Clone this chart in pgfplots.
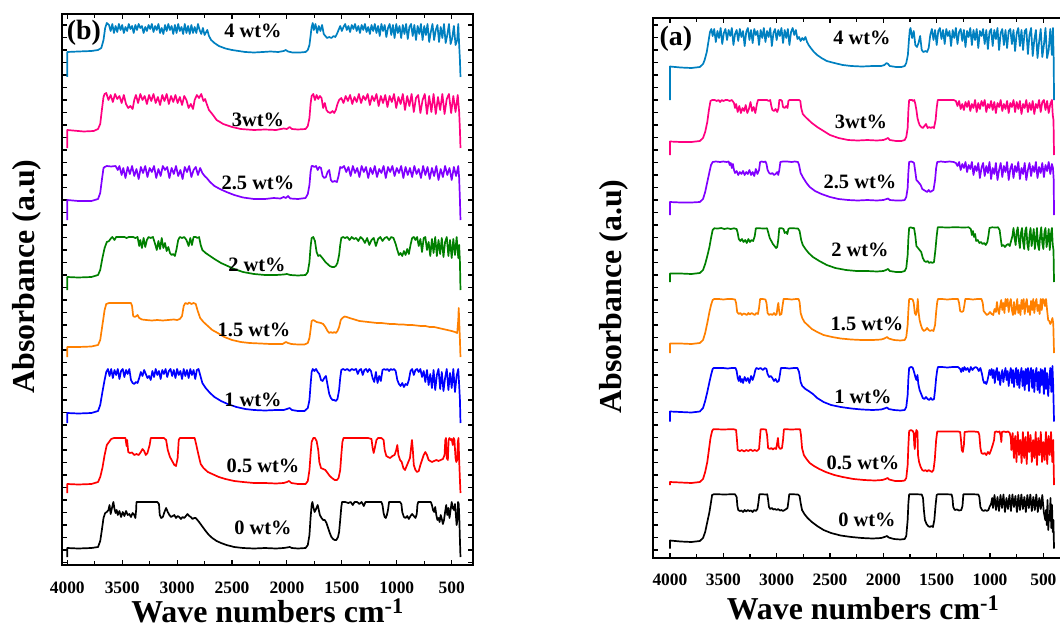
\documentclass[border=0pt]{standalone}
\usepackage{pgfplots}
\pgfplotsset{compat=1.18}
\usepackage{fontspec}
\setmainfont{Liberation Serif}
\definecolor{cA}{RGB}{0,128,192}
\definecolor{cB}{RGB}{255,0,128}
\definecolor{cC}{RGB}{128,0,255}
\definecolor{cD}{RGB}{0,128,0}
\definecolor{cE}{RGB}{255,128,0}
\definecolor{cF}{RGB}{0,0,255}
\definecolor{cG}{RGB}{255,0,0}
\definecolor{cH}{RGB}{0,0,0}
\tikzset{lab/.style={font=\fontsize{20.5}{20.5}\selectfont\bfseries, inner sep=0pt}}
\pgfplotsset{
  ftir/.style={
    scale only axis, x dir=reverse, y dir=reverse,
    xtick={500,1000,...,4000}, minor x tick num=1,
    xtick pos=both, xticklabel pos=lower,
    ytick distance=12.5, yticklabels={}, ytick pos=both,
    tick align=inside, major tick length=5bp, minor tick length=4bp,
    every tick/.style={line width=1.1bp, black},
    axis line style={line width=2.6bp},
    /pgf/number format/1000 sep={},
    /pgf/number format/assume math mode=true,
    xticklabel style={font=\fontsize{17.5}{17.5}\selectfont\bfseries, inner sep=0pt},
    no markers,
    every axis plot/.append style={line width=1.7bp, line join=round},
  },
}
\begin{document}
\begin{tikzpicture}
\path[use as bounding box] (0bp,0bp) rectangle (1060bp,628bp);
% ===================== panel (b) =====================
\begin{axis}[ftir, at={(62bp,63bp)}, anchor=south west, width=411bp, height=551bp,
  xmin=306, xmax=4048, ymin=14, ymax=565, xticklabel style={yshift=-17bp}]
% 4 wt%
\addplot[cA] coordinates {(4000,77)(4000,52)(3900,51.5)(3780,51)(3720,50)(3690,48)(3670,40)(3655,28)(3640,23)
(3620,25)(3605,31)(3590,24)(3575,33)(3560,26)(3545,32)(3530,24)(3515,30)(3500,25)(3485,33)(3470,27)(3455,31)(3440,24)(3425,29)(3410,26)(3395,33)(3380,25)(3365,30)(3350,24)(3335,28)(3320,26)(3305,33)(3290,27)(3275,31)(3260,25)(3245,29)(3230,24)(3215,32)(3200,26)(3185,30)(3170,24)(3155,33)(3140,28)(3125,34)(3110,25)(3095,31)(3080,24)(3065,30)(3050,26)(3035,34)(3020,25)(3005,33)(2990,24)(2975,31)(2960,27)(2945,34)(2930,24)(2915,33)(2900,26)(2885,34)(2870,25)(2855,33)(2840,27)(2825,33)(2810,24)(2795,30)(2780,34)(2765,28)(2750,35)
(2740,33)(2725,30)(2710,36)(2690,40)(2660,43)(2620,46)(2560,48.5)(2500,50)(2440,51)(2380,52)(2300,52.5)(2220,52)(2150,51.5)(2080,52)(2030,51)(2010,50)(1990,51.5)(1950,52.5)(1880,52.5)(1830,52)(1810,50)(1795,45)(1785,36)(1775,27)(1765,23)
(1755,30)(1740,24)(1725,33)(1710,26)(1695,31)(1680,25)(1665,34)(1650,36)(1635,38)(1615,37)(1595,38)(1575,36)(1560,37)(1545,34)(1530,30)(1515,26)(1500,31)(1485,27)(1470,24)(1455,30)(1440,26)(1425,32)(1410,25)(1395,29)(1380,24)(1365,31)(1350,26)(1335,33)(1320,25)(1305,30)(1290,24)(1275,32)(1260,27)(1245,34)(1230,25)(1215,31)(1200,24)(1185,33)(1170,26)(1155,36)(1140,24)(1125,31)(1110,25)(1095,37)(1080,28)(1065,24)(1050,35)(1035,25)(1020,38)(1005,24)(990,33)(975,26)(960,38)(945,25)(930,34)(915,24)(900,39)(885,27)(870,24)(855,36)(840,25)(825,40)(810,26)(795,34)(780,24)(765,40)(750,26)(735,35)(720,24)(705,42)(690,32)(675,24)(660,40)(645,30)(630,25)(615,42)(600,27)(585,38)(570,24)(555,43)(540,35)(525,24)(510,44)(495,38)(480,26)(465,45)(450,40)(440,24)(432,45)(425,60)(420,77)};
% 3 wt%
\addplot[cB] coordinates {(4000,148)(4000,130)(3850,131.5)(3760,131)(3720,129)(3700,124)(3685,110)(3670,97)(3660,94)
(3645,93)(3625,100)(3605,95)(3585,102)(3565,94)(3545,99)(3525,96)(3505,103)(3485,95)(3465,104)(3445,108)(3425,106)(3405,109)(3390,100)(3375,95)(3355,103)(3335,94)(3315,100)(3295,96)(3275,104)(3255,95)(3235,101)(3215,94)(3195,103)(3175,97)(3155,105)(3135,95)(3115,101)(3095,94)(3075,104)(3055,96)(3035,102)(3015,95)(2995,103)(2975,97)(2955,105)(2935,96)(2915,100)(2895,108)(2875,104)(2855,109)(2840,100)(2820,95)(2800,98)(2780,94)(2760,101)(2745,99)(2730,104)
(2710,110)(2680,114)(2640,120)(2580,124)(2500,127)(2420,129)(2300,130)(2200,129.5)(2100,130)(2030,128.5)(2000,129)(1975,127)(1955,129)(1900,129.5)(1830,129)(1810,126)(1795,118)(1785,104)(1775,96)
(1760,94)(1745,100)(1730,95)(1715,99)(1700,96)(1685,98)(1670,108)(1655,103)(1640,110)(1625,112)(1605,113)(1585,111)(1570,113)(1555,110)(1540,104)(1525,100)(1505,98)(1485,103)(1465,96)(1445,101)(1425,95)(1405,104)(1385,97)(1365,102)(1345,94)(1325,103)(1305,96)(1285,100)(1265,94)(1245,105)(1225,96)(1205,101)(1185,94)(1165,106)(1145,96)(1125,103)(1105,95)(1085,107)(1065,96)(1045,102)(1025,94)(1005,108)(985,97)(965,104)(945,94)(925,110)(905,96)(885,106)(865,94)(845,112)(825,98)(805,95)(785,113)(765,100)(745,94)(725,114)(705,96)(685,112)(665,94)(645,114)(625,97)(605,110)(585,94)(565,114)(545,99)(525,94)(505,113)(485,96)(465,112)(445,95)(432,112)(425,130)(420,148)};
% 2.5 wt%
\addplot[cC] coordinates {(4000,220)(4000,200)(3900,201)(3780,201)(3720,199)(3700,193)(3685,180)(3670,168)(3660,167)
(3640,166)(3600,166.5)(3560,166)(3540,170)(3525,166)(3505,175)(3490,168)(3470,178)(3450,167)(3430,174)(3410,166)(3390,176)(3370,169)(3350,179)(3330,167)(3310,173)(3290,166)(3270,177)(3250,168)(3230,172)(3210,166)(3190,178)(3170,169)(3150,176)(3130,166)(3110,170)(3090,167)(3070,178)(3050,168)(3030,174)(3010,166)(2990,176)(2970,170)(2950,179)(2930,167)(2910,172)(2890,166)(2870,177)(2850,170)(2830,167)(2810,175)(2790,168)(2770,173)(2750,176)
(2730,178)(2700,182)(2660,186)(2610,189)(2550,192)(2480,195)(2400,197.5)(2300,199)(2200,199)(2120,198)(2060,198.5)(2030,197)(2010,198)(1990,196)(1970,198.5)(1900,199)(1830,198)(1810,194)(1795,185)(1785,172)(1775,166)
(1765,166)(1750,167)(1735,166)(1720,170)(1705,167)(1690,168)(1675,176)(1660,178)(1645,177)(1630,172)(1615,170)(1600,180)(1585,182)(1565,181)(1545,182)(1530,176)(1515,167)(1500,168)(1480,166)(1460,172)(1440,167)(1420,176)(1400,166)(1380,173)(1360,168)(1340,177)(1320,166)(1300,172)(1280,167)(1260,178)(1240,168)(1220,174)(1200,166)(1180,177)(1160,169)(1140,173)(1120,166)(1100,178)(1080,167)(1060,172)(1040,166)(1020,176)(1000,168)(980,173)(960,166)(940,178)(920,167)(900,175)(880,168)(860,177)(840,166)(820,174)(800,169)(780,178)(760,166)(740,175)(720,167)(700,179)(680,168)(660,176)(640,166)(620,180)(600,169)(580,177)(560,166)(540,175)(520,168)(500,180)(480,167)(460,176)(440,166)(432,178)(425,200)(420,220)};
% 2 wt%
\addplot[cD] coordinates {(4000,290)(4000,277)(3900,277.5)(3780,277)(3720,275)(3700,270)(3680,258)(3660,248)(3640,242)(3620,241)(3600,238)(3590,237)(3570,240)(3555,237)(3540,237)(3520,237)(3500,237)(3480,237)(3460,238)(3440,237)(3420,237)(3400,237)(3380,238)(3360,237)(3345,246)(3335,240)(3320,248)(3305,238)(3290,247)(3275,240)(3260,237)(3240,238)(3220,237)(3200,244)(3185,250)(3170,241)(3155,249)(3140,238)(3125,248)(3110,243)(3095,251)(3080,247)(3065,253)(3050,255)(3035,254)(3020,256)(3005,249)(2990,240)(2975,237)(2955,238)(2935,237)(2915,240)(2895,246)(2880,238)(2865,245)(2850,237)(2830,237)(2815,238)(2800,237)(2785,245)(2770,250)(2740,253)(2700,256)(2660,259)(2600,263)(2540,266)(2480,269)(2400,272)(2300,274)(2200,275)(2100,275)(2030,274.5)(2000,274)(1970,275)(1900,275.5)(1830,275)(1810,272)(1795,262)(1785,247)(1775,238)(1760,237)(1745,241)(1730,252)(1715,256)(1700,255)(1685,257)(1670,259)(1650,262)(1630,264)(1610,266)(1590,267)(1570,267)(1555,266)(1540,263)(1525,255)(1515,245)(1505,238)(1490,237)(1470,238)(1450,237)(1430,240)(1410,237)(1390,239)(1370,238)(1350,241)(1330,237)(1310,239)(1290,243)(1270,238)(1250,245)(1230,240)(1210,238)(1190,246)(1170,239)(1150,237)(1130,241)(1110,238)(1090,237)(1070,240)(1050,237)(1030,238)(1010,244)(995,250)(980,255)(965,253)(950,256)(935,251)(920,255)(905,249)(890,254)(875,245)(860,238)(845,237)(830,240)(815,237)(800,246)(785,239)(770,252)(755,238)(740,237)(725,250)(710,242)(695,256)(680,239)(665,253)(650,237)(635,256)(620,240)(605,254)(590,238)(575,257)(560,242)(545,237)(530,256)(515,240)(500,258)(485,239)(470,255)(455,237)(440,258)(432,245)(425,262)(420,290)};
% 1.5 wt%
\addplot[cE] coordinates {(4000,357)(4000,347)(3900,347)(3780,346.5)(3720,345)(3700,340)(3680,325)(3660,310)(3645,304)(3620,303)(3550,303)(3480,303)(3420,303)(3410,306)(3400,316)(3385,317)(3370,316)(3360,315)(3345,318)(3320,319.5)(3280,320)(3230,320.5)(3180,320)(3130,320.5)(3080,320)(3030,319.5)(3000,320)(2975,319)(2955,316)(2940,306)(2925,303)(2905,304)(2890,302.5)(2870,304)(2850,303)(2830,304)(2815,310)(2790,318)(2760,322)(2720,326)(2680,330)(2630,333)(2570,337)(2500,340)(2420,342)(2340,343)(2240,343.5)(2150,344)(2080,344)(2040,344)(2010,342)(1990,343)(1960,344)(1900,344.5)(1840,344.5)(1810,343)(1795,338)(1785,330)(1775,321)(1760,320)(1745,321)(1730,322)(1710,322.5)(1690,323)(1670,324)(1650,327)(1630,331)(1615,333)(1600,332)(1585,333)(1570,332)(1555,333)(1540,331)(1525,327)(1510,320)(1495,318)(1475,316.5)(1455,317)(1430,318)(1400,319)(1370,320)(1340,321)(1300,321.5)(1260,322)(1220,322.5)(1180,323)(1140,323)(1100,323.5)(1060,324)(1020,324)(980,324.5)(940,324.5)(900,325)(860,325)(820,325.5)(780,326)(740,326)(700,327)(660,327)(620,328)(580,329)(540,330)(500,331)(470,332)(450,333)(440,320)(436,308)(432,320)(425,340)(420,357)};
% 1 wt%
\addplot[cF] coordinates {(4000,423)(4000,413)(3900,413.5)(3780,413)(3720,411)(3700,405)(3680,392)(3660,380)(3645,372)(3630,369)(3615,376)(3600,369)(3585,378)(3570,370)(3555,375)(3540,369)(3525,379)(3510,371)(3495,369)(3480,377)(3465,370)(3450,374)(3435,369)(3420,380)(3405,383)(3390,384)(3375,382)(3360,383)(3345,378)(3330,372)(3315,376)(3300,370)(3285,374)(3270,378)(3255,376)(3240,380)(3225,371)(3210,377)(3195,369)(3180,375)(3165,371)(3150,379)(3135,370)(3120,374)(3105,369)(3090,377)(3075,371)(3060,369)(3045,376)(3030,370)(3015,378)(3000,369)(2985,375)(2970,371)(2955,379)(2940,369)(2925,376)(2910,370)(2895,378)(2880,369)(2865,375)(2850,370)(2835,379)(2820,370)(2805,369)(2790,375)(2770,383)(2740,388)(2700,393)(2660,397)(2600,401)(2540,404)(2460,407)(2380,409)(2300,410)(2200,410.5)(2100,410)(2030,410)(2000,409)(1975,408)(1955,410)(1900,411)(1840,411)(1810,408)(1795,400)(1785,385)(1775,372)(1765,369)(1750,371)(1735,369)(1720,372)(1705,374)(1690,380)(1675,381)(1660,378)(1645,376)(1630,385)(1615,394)(1600,398)(1585,400)(1570,400)(1555,401)(1540,399)(1525,390)(1515,378)(1505,370)(1490,369)(1470,370)(1450,369)(1430,371)(1410,369)(1390,370)(1370,369)(1355,374)(1340,370)(1325,369)(1310,375)(1295,370)(1280,369)(1265,372)(1250,369)(1235,371)(1220,378)(1205,382)(1190,372)(1175,383)(1160,376)(1145,381)(1130,370)(1115,369)(1100,370)(1085,369)(1070,371)(1055,369)(1040,370)(1025,369)(1010,371)(995,380)(980,384)(965,386)(950,383)(935,387)(920,384)(905,385)(890,380)(875,371)(860,369)(845,375)(830,370)(815,369)(800,372)(785,369)(770,377)(755,371)(740,382)(725,370)(710,385)(695,374)(680,388)(665,370)(650,390)(635,375)(620,369)(605,389)(590,372)(575,391)(560,378)(545,369)(530,390)(515,373)(500,388)(485,369)(470,392)(455,376)(440,369)(432,385)(425,400)(420,423)};
% 0.5 wt%
\addplot[cG] coordinates {(4000,493)(4000,484)(3900,484.5)(3780,484)(3720,482)(3700,477)(3680,468)(3660,455)(3640,445)(3600,439)(3575,438)(3540,438)(3500,438)(3470,438)(3460,446)(3455,440)(3445,452)(3430,453)(3410,452.5)(3390,455)(3370,454)(3350,455)(3330,452)(3315,449)(3300,451)(3285,455)(3270,453)(3250,445)(3240,438)(3200,438)(3160,438)(3120,438)(3100,440)(3085,450)(3065,457)(3045,461)(3025,465)(3010,466)(2995,458)(2985,440)(2975,438)(2930,438)(2880,438)(2840,438)(2825,445)(2805,455)(2785,464)(2760,468)(2720,472)(2680,474)(2620,477)(2560,479)(2480,481)(2400,482)(2300,483)(2200,483)(2100,483.5)(2030,483)(2000,482)(1980,481)(1960,483)(1900,484)(1830,484)(1810,481)(1795,470)(1785,455)(1775,442)(1760,438)(1745,438)(1730,441)(1715,450)(1705,462)(1690,468)(1670,469)(1650,470)(1630,473)(1610,476)(1590,478)(1565,480)(1545,480)(1530,478)(1515,470)(1505,455)(1495,442)(1485,438)(1450,438)(1400,438)(1350,438)(1300,438)(1260,438)(1230,439)(1220,448)(1210,453)(1200,448)(1185,440)(1170,438)(1140,438)(1120,440)(1110,450)(1095,456)(1080,457)(1060,458)(1040,456)(1020,455)(1005,450)(995,445)(985,455)(970,460)(955,462)(940,468)(925,470)(910,466)(895,462)(880,458)(870,448)(862,440)(855,448)(845,465)(830,470)(815,472)(800,471)(785,465)(770,460)(755,455)(740,452)(725,455)(710,460)(695,461)(680,462)(660,461)(640,460)(620,461)(600,460)(580,459)(565,455)(558,440)(552,438)(545,458)(535,460)(528,440)(520,438)(510,440)(500,439)(490,445)(482,438)(475,440)(465,458)(458,462)(450,460)(444,442)(438,438)(432,460)(425,480)(420,493)};
% 0 wt%
\addplot[cH] coordinates {(4000,557)(4000,548)(3900,548.5)(3780,548)(3720,547)(3700,541)(3685,530)(3670,518)(3655,513)(3640,512)(3625,510)(3615,505)(3605,514)(3595,509)(3580,502)(3570,509)(3560,513)(3550,510)(3540,515)(3525,511)(3510,517)(3495,512)(3480,516)(3465,511)(3450,515)(3435,514)(3420,517)(3405,513)(3390,515)(3380,518)(3373,510)(3370,502)(3320,502)(3270,502)(3220,502)(3180,502)(3165,504)(3158,515)(3145,518)(3130,517)(3115,512)(3100,508)(3085,512)(3070,515)(3055,517)(3040,516)(3025,515)(3010,518)(2995,516)(2980,517)(2965,519)(2950,517)(2935,518)(2920,516)(2905,514)(2890,516)(2875,517)(2860,519)(2845,518)(2830,518)(2815,520)(2800,522)(2780,525)(2760,528)(2740,531)(2710,535)(2680,538)(2640,541)(2600,543)(2550,545)(2480,547)(2400,548)(2300,548.5)(2200,548)(2100,548.5)(2030,548)(2000,547.5)(1975,547)(1955,548)(1900,548.5)(1830,548)(1810,545)(1795,535)(1785,518)(1775,505)(1768,502)(1760,507)(1748,512)(1735,509)(1720,505)(1710,510)(1700,515)(1685,518)(1670,520)(1655,520)(1640,523)(1625,528)(1610,533)(1595,537)(1580,539)(1565,540)(1550,540)(1535,537)(1525,532)(1515,520)(1505,507)(1498,502)(1470,502)(1440,503)(1420,502)(1400,505)(1385,502)(1360,502)(1340,504)(1320,502)(1300,506)(1285,502)(1260,502)(1230,502)(1200,502)(1170,502)(1140,502)(1130,505)(1120,513)(1110,517)(1100,518)(1090,515)(1080,510)(1070,502)(1040,502)(1000,502)(970,502)(958,504)(950,512)(935,517)(920,518)(905,516)(890,519)(875,516)(860,514)(845,516)(830,518)(818,514)(812,505)(805,502)(770,502)(740,502)(710,502)(690,502)(680,505)(670,510)(660,512)(650,507)(640,515)(630,520)(620,518)(610,522)(600,515)(590,519)(580,524)(570,520)(560,512)(550,505)(540,515)(530,508)(520,518)(510,510)(500,502)(490,508)(480,510)(470,504)(462,515)(455,525)(448,520)(442,502)(436,504)(430,520)(425,540)(420,557)};
\node[lab, font=\fontsize{28}{28}\selectfont\bfseries] at (axis cs:3848,33) {(b)};
\node[lab] at (axis cs:2309,31) {4 wt\%};
\node[lab] at (axis cs:2264,120) {3wt\%};
\node[lab] at (axis cs:2264,183) {2.5 wt\%};
\node[lab] at (axis cs:2273,265) {2 wt\%};
\node[lab] at (axis cs:2300,330) {1.5 wt\%};
\node[lab] at (axis cs:2309,400) {1 wt\%};
\node[lab] at (axis cs:2218,466) {0.5 wt\%};
\node[lab] at (axis cs:2218,528) {0 wt\%};
\end{axis}
% ===================== panel (a) =====================
\begin{axis}[ftir, at={(653bp,70bp)}, anchor=south west, width=415bp, height=540bp,
  xmin=269, xmax=4159, ymin=18, ymax=558, xticklabel style={yshift=-16bp}]
% 4 wt%
\addplot[cA] coordinates {(4000,100)(4000,66.5)(3900,67.5)(3800,68)(3720,67)(3690,64)(3675,60)(3655,52)(3640,42)(3625,32)(3612,29)
(3600,36)(3585,29)(3570,42)(3555,31)(3540,38)(3525,28)(3510,44)(3495,33)(3480,29)(3465,40)(3450,30)(3435,36)(3420,28)(3405,45)(3390,34)(3375,30)(3360,41)(3345,29)(3330,37)(3315,31)(3300,46)(3285,32)(3270,28)(3255,40)(3240,30)(3225,43)(3210,29)(3195,35)(3180,31)(3165,45)(3150,30)(3135,38)(3120,28)(3105,42)(3090,31)(3075,37)(3060,28)(3045,46)(3030,33)(3015,29)(3000,40)(2985,30)(2970,36)(2955,28)(2940,43)(2925,30)(2910,38)(2895,29)(2880,45)(2865,32)(2850,28)(2835,35)(2820,30)(2805,39)(2790,37)(2775,41)(2760,38)(2745,40)(2730,37)(2715,42)(2700,45)
(2680,48)(2650,52)(2620,55)(2580,58)(2530,61)(2460,63)(2380,65)(2300,66)(2200,66.5)(2100,66)(2020,66)(1990,65)(1970,63)(1955,64)(1940,66)(1880,67)(1830,67)(1800,66)(1785,63)(1770,55)(1760,40)(1752,30)
(1745,28)(1730,38)(1715,31)(1700,45)(1685,47)(1670,43)(1655,36)(1640,50)(1625,52)(1605,51)(1590,52)(1575,48)(1560,35)(1545,29)(1530,40)(1515,30)(1500,45)(1485,31)(1470,28)(1455,39)(1440,30)(1425,44)(1410,29)(1395,36)(1380,31)(1365,46)(1350,30)(1335,38)(1320,28)(1305,44)(1290,32)(1275,29)(1260,41)(1245,30)(1230,47)(1215,31)(1200,37)(1185,28)(1170,45)(1155,30)(1140,40)(1125,29)(1110,48)(1095,31)(1080,36)(1065,29)(1050,44)(1035,30)(1020,49)(1005,32)(990,29)(975,46)(960,30)(945,39)(930,28)(915,50)(900,33)(885,29)(870,45)(855,30)(840,48)(825,31)(810,29)(795,44)(780,30)(765,51)(750,33)(735,28)(720,46)(705,30)(690,50)(675,31)(660,29)(645,54)(630,35)(615,28)(600,56)(585,40)(570,30)(555,58)(540,42)(525,29)(510,57)(495,45)(480,28)(465,58)(450,50)(435,29)(420,55)(410,28)(403,60)(400,100)};
% 3 wt%
\addplot[cB] coordinates {(4000,155)(4000,141.5)(3900,142)(3800,142)(3720,141)(3690,138)(3670,132)(3650,122)(3635,110)(3620,101)(3605,100)(3580,100)(3560,101)(3545,100)(3530,102)(3515,100)(3500,101)(3480,100)(3460,100)(3440,101)(3420,100)(3400,103)(3390,108)(3380,104)(3365,112)(3350,106)(3335,113)(3320,108)(3305,111)(3290,105)(3275,113)(3260,109)(3245,102)(3230,111)(3215,107)(3200,113)(3185,104)(3175,100)(3150,100)(3120,100)(3090,100)(3075,101)(3060,100)(3050,106)(3040,110)(3025,111)(3010,109)(2995,112)(2982,108)(2975,100)(2960,100)(2950,101)(2940,107)(2925,108)(2910,106)(2898,108)(2890,101)(2880,100)(2850,100)(2820,100)(2790,100)(2778,101)(2770,108)(2755,114)(2730,117)(2700,120)(2670,123)(2620,127)(2560,131)(2500,135)(2420,138)(2330,140)(2240,140.5)(2150,140)(2060,140.5)(2000,140)(1975,139)(1955,138)(1940,140)(1880,141)(1830,141)(1800,140)(1785,137)(1772,128)(1765,110)(1758,100)(1745,100)(1730,100)(1720,101)(1710,100)(1700,104)(1690,110)(1680,118)(1670,122)(1660,125)(1645,127)(1630,128)(1615,126)(1600,124)(1585,128)(1570,127)(1555,128)(1540,127)(1525,128)(1510,120)(1500,108)(1490,100)(1460,100)(1430,100)(1400,100)(1370,100)(1340,100)(1320,101)(1305,106)(1290,101)(1275,109)(1260,104)(1245,110)(1230,102)(1215,107)(1200,101)(1185,111)(1170,104)(1155,108)(1140,100)(1125,112)(1110,103)(1095,109)(1080,101)(1065,106)(1050,100)(1035,112)(1020,104)(1005,108)(990,101)(975,110)(960,102)(945,113)(930,103)(915,107)(900,100)(885,111)(870,104)(855,109)(840,101)(825,113)(810,103)(795,107)(780,100)(765,112)(750,102)(735,109)(720,101)(705,114)(690,104)(675,108)(660,100)(645,112)(630,103)(615,110)(600,101)(585,114)(570,104)(555,108)(540,100)(525,112)(510,102)(495,100)(480,110)(465,101)(450,113)(435,104)(420,100)(412,115)(405,120)(400,155)};
% 2.5 wt%
\addplot[cC] coordinates {(4000,215)(4000,202)(3900,202.5)(3800,202.5)(3720,202)(3690,199)(3670,192)(3650,182)(3630,172)(3615,165)(3600,162)(3570,161.5)(3530,162)(3500,161.5)(3470,162)(3450,161.5)(3440,165)(3430,163)(3420,168)(3410,164)(3400,170)(3390,173)(3375,171)(3360,175)(3345,172)(3330,174)(3315,171)(3300,175)(3285,172)(3270,174)(3255,170)(3240,175)(3225,172)(3210,176)(3195,169)(3180,174)(3165,170)(3155,162)(3140,161.5)(3120,162)(3105,161.5)(3095,164)(3085,170)(3070,173)(3055,174)(3040,173)(3025,175)(3010,174)(2995,172)(2985,175)(2975,170)(2965,162)(2940,161.5)(2900,161.5)(2860,162)(2830,161.5)(2800,162)(2790,165)(2775,173)(2750,178)(2720,183)(2690,187)(2640,191)(2580,194)(2500,197)(2420,199)(2330,200)(2240,200.5)(2150,200)(2060,200.5)(2000,200)(1970,199)(1955,198.5)(1940,200)(1880,200.5)(1830,200.5)(1800,200)(1785,197)(1772,188)(1765,172)(1758,162)(1740,161.5)(1725,162)(1712,163)(1700,172)(1690,180)(1680,181)(1665,183)(1650,185)(1635,189)(1620,190)(1605,191)(1590,192)(1575,190)(1560,192)(1545,191)(1530,190)(1515,180)(1505,168)(1495,162)(1460,161.5)(1420,162)(1380,161.5)(1340,162)(1320,163)(1305,166)(1290,162)(1275,170)(1260,164)(1245,168)(1230,162)(1215,172)(1200,165)(1185,169)(1170,162)(1155,175)(1140,166)(1125,171)(1110,163)(1095,178)(1080,168)(1065,163)(1050,176)(1035,166)(1020,173)(1005,162)(990,179)(975,168)(960,174)(945,163)(930,180)(915,170)(900,163)(885,177)(870,166)(855,172)(840,162)(825,180)(810,169)(795,164)(780,178)(765,166)(750,172)(735,162)(720,179)(705,168)(690,174)(675,163)(660,180)(645,170)(630,163)(615,176)(600,166)(585,172)(570,162)(555,178)(540,167)(525,173)(510,163)(495,177)(480,165)(465,171)(450,162)(435,174)(420,164)(410,168)(403,180)(400,215)};
% 2 wt%
\addplot[cD] coordinates {(4000,282)(4000,273.5)(3900,273.5)(3800,274)(3720,273)(3690,270)(3670,264)(3650,256)(3630,247)(3615,238)(3600,230)(3585,228.3)(3550,228.5)(3520,228)(3490,229)(3460,228.3)(3430,229)(3400,228.3)(3375,229)(3365,233)(3355,239)(3340,241)(3325,239)(3310,242)(3295,240)(3280,243)(3265,239)(3250,242)(3235,240)(3220,241)(3205,236)(3195,228.3)(3160,228.3)(3120,228.5)(3090,228.3)(3080,232)(3065,238)(3050,241)(3035,244)(3020,246)(3005,248)(2995,247)(2985,240)(2975,228.3)(2950,228.3)(2935,229)(2925,233)(2910,232)(2900,234)(2890,229)(2880,228.3)(2840,228.3)(2800,228.5)(2785,231)(2770,240)(2755,245)(2730,249)(2700,253)(2660,257)(2600,261)(2530,265)(2450,268)(2350,270)(2250,271)(2150,271)(2060,271.5)(2000,271)(1975,270)(1955,269)(1940,271)(1880,272)(1830,272)(1800,271)(1785,268)(1772,255)(1765,238)(1758,228)(1745,227.3)(1725,228)(1712,228)(1700,236)(1690,246)(1675,248)(1660,250)(1645,252)(1630,258)(1615,261)(1600,262)(1585,261)(1570,263)(1555,262)(1540,263)(1525,262)(1512,250)(1500,236)(1490,227.3)(1450,227.3)(1400,227.5)(1350,227.3)(1300,227.3)(1250,227.5)(1200,227.3)(1180,229)(1170,235)(1160,231)(1150,237)(1140,234)(1130,241)(1115,240)(1100,243)(1085,242)(1070,244)(1055,243)(1040,245)(1025,242)(1015,236)(1005,228)(980,227.3)(950,227.5)(925,227.3)(910,230)(898,240)(890,246)(875,245)(860,247)(845,245)(830,244)(815,246)(800,240)(790,236)(780,228)(770,238)(760,245)(750,232)(740,227.3)(730,240)(720,248)(710,233)(700,228)(690,242)(680,249)(670,231)(660,227.3)(650,244)(640,250)(630,235)(620,228)(610,246)(600,238)(590,229)(580,249)(570,240)(560,228)(550,245)(540,250)(530,236)(520,227.3)(510,243)(500,249)(490,232)(480,228)(470,247)(460,240)(450,229)(440,250)(430,235)(420,228)(412,245)(405,250)(400,282)};
% 1.5 wt%
\addplot[cE] coordinates {(4000,353)(4000,343.5)(3900,343.5)(3800,344)(3720,343)(3690,340)(3670,333)(3650,323)(3630,312)(3615,305)(3600,300)(3585,299)(3540,299)(3500,299.5)(3460,299)(3420,299)(3390,299.5)(3380,303)(3370,312)(3355,314)(3340,313)(3325,315)(3310,313.5)(3295,314)(3280,315)(3265,313)(3250,314.5)(3235,313)(3220,314)(3205,315)(3190,313)(3175,314)(3165,308)(3155,299)(3130,299)(3105,299.5)(3095,303)(3085,313)(3070,315)(3055,314)(3040,315)(3025,313)(3010,315)(3000,314)(2990,306)(2984,303)(2978,310)(2970,315)(2955,314)(2945,306)(2935,299)(2900,299)(2860,299.5)(2820,299)(2795,299)(2785,302)(2775,313)(2760,318)(2740,322)(2710,325)(2670,329)(2620,332)(2560,335)(2480,337)(2400,338.5)(2300,339.5)(2200,340)(2100,340)(2020,339.5)(1990,338.5)(1965,337)(1950,338.5)(1900,340)(1840,340.5)(1800,340)(1785,337)(1772,325)(1765,310)(1758,299)(1740,299)(1725,299.5)(1715,303)(1705,313)(1695,315)(1685,310)(1677,299)(1670,312)(1660,320)(1648,325)(1635,329)(1620,331)(1605,330)(1590,328)(1575,330)(1560,331)(1545,330)(1530,331)(1515,325)(1505,312)(1495,302)(1488,299)(1450,299)(1400,299.5)(1350,299)(1300,299)(1290,303)(1280,311)(1265,312)(1250,311)(1240,305)(1232,299)(1200,299)(1160,299.5)(1120,299)(1080,299)(1068,303)(1060,311)(1045,313)(1030,315)(1015,314)(1000,312)(985,314)(970,315)(958,309)(945,312)(935,302)(925,310)(915,314)(905,306)(895,300)(885,310)(875,303)(865,313)(855,299)(845,306)(835,299)(825,312)(815,303)(805,299)(795,310)(785,315)(775,302)(765,314)(755,308)(745,299)(735,313)(725,305)(715,315)(705,300)(695,309)(685,299)(675,314)(665,304)(655,299)(645,312)(635,306)(625,315)(615,301)(605,310)(595,299)(585,313)(575,303)(565,299)(555,311)(545,305)(535,314)(525,299)(515,310)(505,299)(495,300)(485,306)(475,299)(465,310)(455,320)(445,321)(435,324)(425,322)(415,318)(407,324)(400,353)};
% 1 wt%
\addplot[cF] coordinates {(4000,421.5)(4000,411.5)(3900,412)(3800,412.5)(3720,411.5)(3690,408)(3670,401)(3650,392)(3630,382)(3615,375)(3600,369)(3590,368)(3550,368)(3500,368)(3460,368.5)(3420,368)(3385,368)(3375,371)(3365,378)(3355,381)(3345,376)(3335,382)(3325,379)(3315,383)(3300,377)(3285,381)(3270,378)(3255,383)(3240,376)(3225,380)(3210,375)(3200,370)(3190,368)(3170,369)(3150,368)(3130,370)(3110,368)(3095,369)(3085,374)(3070,377)(3055,376)(3040,378)(3025,381)(3010,379)(2995,382)(2980,381)(2970,375)(2960,368)(2920,368)(2880,368.5)(2840,368)(2805,368)(2790,372)(2775,382)(2760,386)(2730,389)(2700,391)(2660,394)(2620,398)(2560,402)(2490,405)(2400,407)(2300,408.5)(2200,409.5)(2100,410)(2020,409.5)(1990,408.5)(1965,407.5)(1950,409)(1900,410)(1840,410.5)(1800,410)(1785,407)(1772,395)(1765,378)(1758,368)(1740,367)(1725,367.5)(1712,372)(1700,377)(1690,380)(1680,375)(1672,384)(1660,390)(1645,394)(1630,398)(1615,399)(1600,397)(1585,399)(1570,400)(1555,398)(1540,400)(1525,399)(1515,390)(1505,378)(1495,370)(1488,367)(1450,367)(1400,367.5)(1350,367)(1300,367)(1280,369)(1270,372)(1260,368)(1250,371)(1240,367)(1225,370)(1210,368)(1195,372)(1180,367)(1165,370)(1150,368)(1135,367)(1120,368)(1105,371)(1090,368)(1075,374)(1065,380)(1055,383)(1045,382)(1035,384)(1025,381)(1015,376)(1005,370)(995,375)(985,369)(975,378)(965,370)(955,383)(945,372)(935,368)(925,380)(915,372)(905,385)(895,376)(885,370)(875,382)(865,374)(855,368)(845,380)(835,371)(825,386)(815,374)(805,368)(795,383)(785,370)(775,387)(765,373)(755,368)(745,385)(735,370)(725,388)(715,375)(705,368)(695,386)(685,371)(675,390)(665,369)(655,384)(645,368)(635,391)(625,372)(615,368)(605,388)(595,370)(585,392)(575,374)(565,368)(555,390)(545,372)(535,393)(525,369)(515,385)(505,370)(495,394)(485,368)(475,389)(465,373)(455,396)(445,380)(435,368)(425,392)(415,366)(408,385)(400,421.5)};
% 0.5 wt%
\addplot[cG] coordinates {(4000,485)(4000,482)(3900,482.5)(3800,483)(3720,482)(3690,479)(3670,472)(3650,462)(3635,450)(3620,438)(3605,431)(3595,429.3)(3550,429.3)(3500,429.5)(3450,429.3)(3400,429.3)(3380,430)(3372,440)(3365,450)(3345,451)(3325,450)(3305,451.5)(3285,450)(3265,451)(3245,449.5)(3225,451)(3205,450)(3185,451)(3165,449)(3158,440)(3150,429.3)(3120,429.3)(3100,429.5)(3090,435)(3080,448)(3065,449)(3050,448)(3035,449.5)(3020,448)(3005,449)(2995,443)(2988,438)(2980,447)(2965,449)(2950,448)(2940,440)(2932,429.3)(2900,429.3)(2860,429.5)(2820,429.3)(2780,429.3)(2772,435)(2762,448)(2745,455)(2720,459)(2690,463)(2650,466)(2600,469)(2540,472)(2460,475)(2380,477)(2280,479)(2180,480)(2080,480.5)(2010,480)(1980,479)(1960,478)(1945,479.5)(1890,481)(1830,481)(1800,480.5)(1785,478)(1772,465)(1765,445)(1758,431)(1740,430)(1725,431)(1715,433)(1710,445)(1705,449)(1698,435)(1690,430)(1680,432)(1675,455)(1665,462)(1650,467)(1635,470)(1620,471)(1605,470)(1590,471.5)(1575,470)(1560,471)(1545,472)(1530,470)(1518,460)(1505,440)(1495,431.5)(1450,431.5)(1400,431.5)(1350,431.5)(1300,431.5)(1280,432)(1272,440)(1265,450)(1255,452)(1245,445)(1238,432)(1200,431.5)(1150,431.5)(1110,432)(1100,435)(1090,448)(1080,453)(1065,454)(1050,453)(1035,455)(1020,452)(1005,454)(990,450)(975,445)(962,440)(955,432)(940,431.5)(925,432)(910,431.5)(900,436)(894,442)(888,432)(870,431.5)(850,432)(830,431.5)(815,433)(805,438)
(800,450)(788,433)(776,458)(764,436)(752,462)(740,432)(728,455)(716,440)(704,463)(692,432)(680,458)(668,437)(656,464)(644,432)(632,452)(620,435)(608,462)(596,440)(584,458)(572,432)(560,465)(548,438)(536,455)(524,432)(512,462)(500,442)(488,460)(476,432)(464,464)(452,436)(440,455)(428,432)(416,462)(408,440)(403,468)(400,485)};
% 0 wt%
\addplot[cH] coordinates {(4000,548.5)(4000,540.5)(3900,541.5)(3800,542)(3720,541)(3690,538)(3670,532)(3650,522)(3630,512)(3615,502)(3605,495)(3590,494.3)(3540,494.3)(3490,494.5)(3440,494.3)(3390,494.3)(3375,497)(3368,506)(3360,510)(3345,511)(3330,510.5)(3315,512)(3300,510)(3285,511.5)(3270,510)(3255,511)(3240,510.5)(3225,512)(3210,510)(3195,511)(3180,509)(3170,502)(3162,494.3)(3130,494.3)(3100,494.5)(3088,494.3)(3080,500)(3072,507)(3060,509)(3045,508)(3030,509.5)(3015,509)(3000,510)(2985,509)(2970,510.5)(2955,510)(2940,511)(2925,510)(2910,509)(2898,508)(2888,500)(2882,494.3)(2840,494.3)(2800,494.5)(2785,496)(2775,503)(2762,510)(2740,514)(2710,518)(2670,522)(2620,526)(2560,530)(2490,533)(2400,535.5)(2300,537)(2200,538)(2100,538.5)(2020,538)(1990,537)(1965,536)(1950,537.5)(1900,539)(1840,539.5)(1800,539)(1785,536)(1772,520)(1765,503)(1758,494.3)(1720,494.3)(1680,494.3)(1640,494.5)(1628,498)(1620,510)(1610,520)(1595,524)(1580,526)(1565,527)(1550,526)(1535,527)(1522,520)(1510,505)(1500,495)(1490,494.3)(1450,494.3)(1400,494.3)(1360,494.5)(1352,498)(1345,507)(1330,510)(1310,509.5)(1290,510.5)(1270,510)(1258,506)(1250,494.3)(1200,494.3)(1150,494.3)(1110,494.5)(1100,497)(1090,507)(1075,510)(1060,511)(1045,510)(1030,511)(1015,510)(1005,507)(995,505)(988,503)(980,498)
(972,508)(958,495)(944,510)(930,497)(916,511)(902,495)(888,508)(874,494.5)(860,512)(846,498)(832,509)(818,495)(804,511)(790,494.5)(776,507)(762,496)(748,512)(734,495)(720,510)(706,494.5)(692,509)(678,497)(664,512)(650,495)(636,508)(622,494.5)(608,511)(594,497)(580,510)(566,494.5)(552,512)(538,498)(524,509)(510,495)(496,512)(482,520)(475,510)(468,525)(461,500)(454,530)(447,515)(440,520)(433,498)(426,528)(419,505)(412,532)(406,520)(400,548.5)};
\node[lab, font=\fontsize{28}{28}\selectfont\bfseries] at (axis cs:3944,39) {(a)};
\node[lab] at (axis cs:2200,38) {4 wt\%};
\node[lab] at (axis cs:2209,122) {3wt\%};
\node[lab] at (axis cs:2219,182) {2.5 wt\%};
\node[lab] at (axis cs:2219,250) {2 wt\%};
\node[lab] at (axis cs:2153,324) {1.5 wt\%};
\node[lab] at (axis cs:2191,397) {1 wt\%};
\node[lab] at (axis cs:2191,463) {0.5 wt\%};
\node[lab] at (axis cs:2153,520) {0 wt\%};
\end{axis}
% axis titles
\node[rotate=90, font=\fontsize{32}{32}\selectfont\bfseries, inner sep=0pt] at (27bp,351.5bp) {Absorbance (a.u)};
\node[rotate=90, font=\fontsize{32}{32}\selectfont\bfseries, inner sep=0pt] at (614bp,331.5bp) {Absorbance (a.u)};
\node[anchor=base, font=\fontsize{32}{32}\selectfont\bfseries, inner sep=0pt] at (267.5bp,6bp) {Wave numbers cm\textsuperscript{-1}};
\node[anchor=base, font=\fontsize{32}{32}\selectfont\bfseries, inner sep=0pt] at (863bp,9bp) {Wave numbers cm\textsuperscript{-1}};
\end{tikzpicture}
\end{document}
